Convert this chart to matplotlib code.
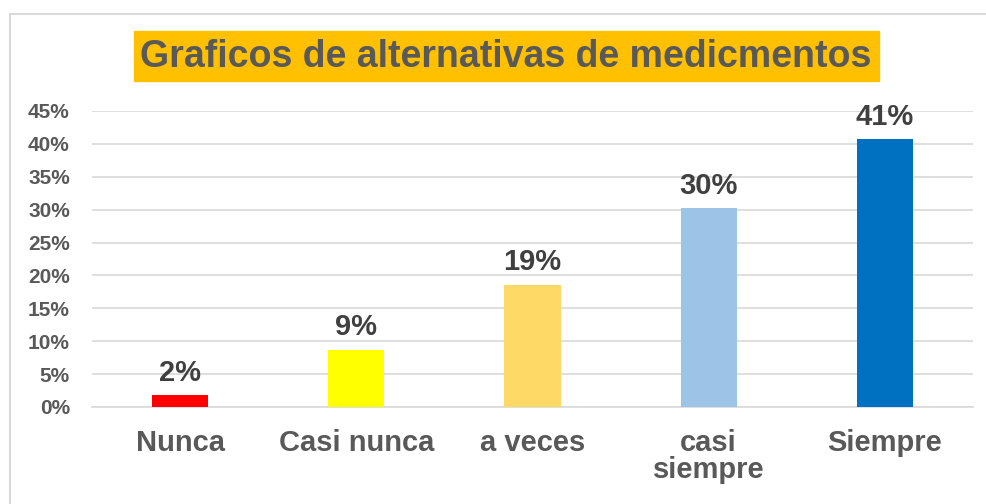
import matplotlib
matplotlib.use("Agg")
import matplotlib.pyplot as plt
from matplotlib.lines import Line2D

categorias = ["Nunca", "Casi nunca", "a veces", "casi\nsiempre", "Siempre"]
porcentajes = [1.8, 8.7, 18.6, 30.2, 40.7]
colores = ["#FF0000", "#FFFF00", "#FFD966", "#9DC3E6", "#0070C0"]
ticks_y = [0, 5, 10, 15, 20, 25, 30, 35, 40, 45]
titulo = "Graficos de alternativas de medicmentos"

plt.rcParams['font.family'] = ['Liberation Sans', 'DejaVu Sans']

W, H = 987, 504
fig = plt.figure(figsize=(W / 100, H / 100), dpi=100)
ax = fig.add_axes([92 / W, 1 - 407 / H, (973 - 92) / W, (407 - 111) / H])

x = range(len(categorias))
bars = ax.bar(x, porcentajes, width=0.32, color=colores, zorder=3)
for b, v in zip(bars, porcentajes):
    ax.annotate("{:.0f}%".format(v), (b.get_x() + b.get_width() / 2, b.get_height()),
                xytext=(0, 6), textcoords="offset points", ha="center", va="bottom",
                fontsize=21, fontweight="bold", color="#404040")

ax.set_xlim(-0.5, len(categorias) - 0.5)
ax.set_ylim(0, 45)
ax.set_yticks(ticks_y)
ax.set_yticklabels(["{}%".format(t) for t in ticks_y])
ax.set_xticks(list(x))
ax.set_xticklabels(categorias, linespacing=0.95)
ax.tick_params(axis="y", length=0, pad=16, labelsize=15, labelcolor="#595959")
ax.tick_params(axis="x", length=0, pad=16, labelsize=21, labelcolor="#595959")
for lab in ax.get_xticklabels() + ax.get_yticklabels():
    lab.set_fontweight("bold")
ax.grid(axis="y", color="#D9D9D9", linewidth=1.2, zorder=0)
for s in ["top", "right", "left"]:
    ax.spines[s].set_visible(False)
ax.spines["bottom"].set_color("#D9D9D9")
ax.spines["bottom"].set_linewidth(1.2)

# titulo con fondo naranja
fig.patches.append(plt.Rectangle((134 / W, 1 - 81 / H), (879 - 134) / W, 50 / H,
                                 transform=fig.transFigure, color="#FFC000", zorder=0))
fig.text(506 / W, 1 - 57 / H, titulo, ha="center", va="center",
         fontsize=27, fontweight="bold", color="#595959")

# borde del grafico
fig.add_artist(Line2D([10 / W, 10 / W], [0, 1 - 14 / H], color="#D9D9D9", linewidth=1.5))
fig.add_artist(Line2D([10 / W, 1], [1 - 14 / H, 1 - 14 / H], color="#D9D9D9", linewidth=1.5))

fig.savefig("out.png", dpi=100)
